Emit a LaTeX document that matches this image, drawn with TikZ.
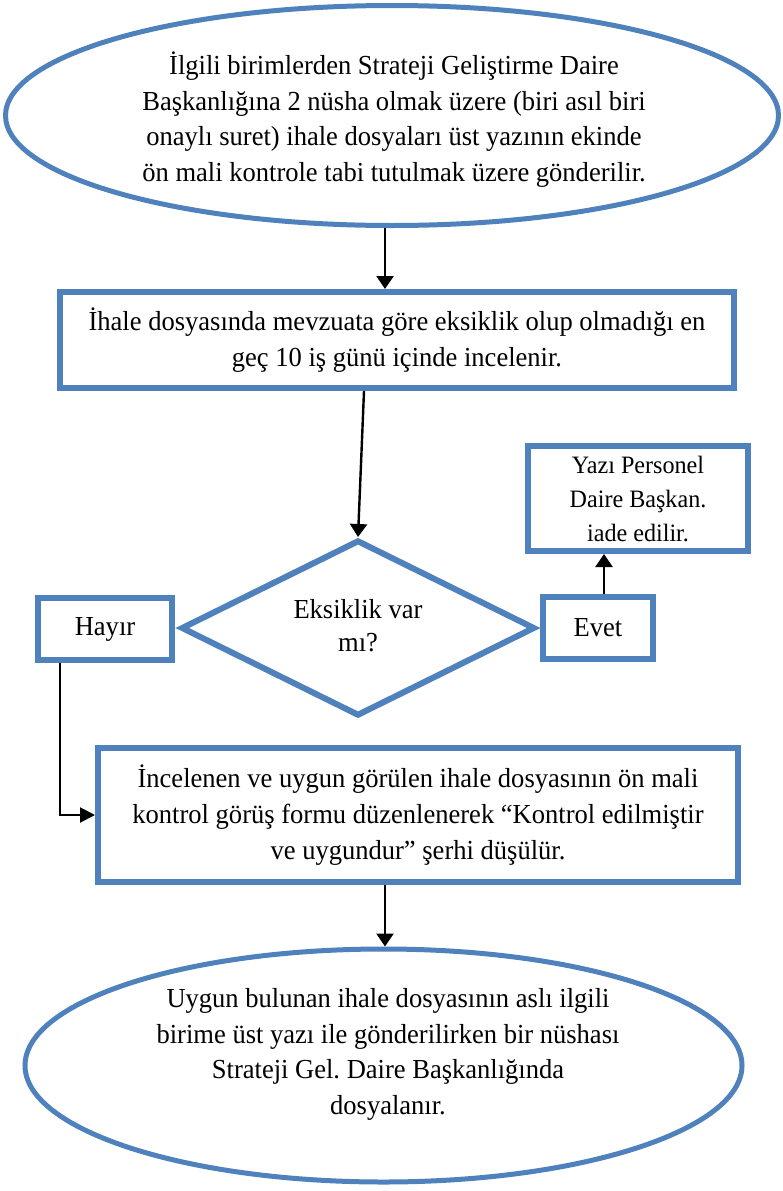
\documentclass[tikz,border=0pt]{standalone}
\usepackage{fontspec}
\setmainfont[FakeStretch=0.965]{Liberation Serif}
\frenchspacing
\usetikzlibrary{shapes.geometric,arrows.meta}
\definecolor{obox}{HTML}{4F81BD}
\tikzset{
  txt/.style={align=center, inner sep=0pt, font=\fontsize{27.5}{35.7}\selectfont},
  shp/.style={txt, draw=obox, line width=6pt, fill=white},
  ell/.style={shp, ellipse, line width=5pt},
  rbox/.style={shp, rectangle},
  dia/.style={shp, diamond},
  arr/.style={draw=black, line width=2.4pt, -{Triangle[length=13pt,width=17pt]}},
  thinarr/.style={draw=black, line width=2pt, -{Triangle[length=15pt,width=15pt]}}
}
\begin{document}
\begin{tikzpicture}[x=1pt,y=-1pt]
\useasboundingbox (0,0) rectangle (783,1191);
\node[ell, minimum width=773pt, minimum height=220pt] (e1) at (392,115.5) {};
\node[txt] (e1t) at (394,119.5)
  {İlgili birimlerden Strateji Geliştirme Daire\\Başkanlığına 2 nüsha olmak üzere (biri asıl biri\\onaylı suret) ihale dosyaları üst yazının ekinde\\ön mali kontrole tabi tutulmak üzere gönderilir.};
\node[rbox, minimum width=674pt, minimum height=96pt] (b1) at (397,340)
  {İhale dosyasında mevzuata göre eksiklik olup olmadığı en\\geç 10 iş günü içinde incelenir.};
\node[dia, minimum width=354pt, minimum height=176pt] (d) at (358,628) {};
\node[txt, font=\fontsize{27.5}{33}\selectfont] (dt) at (358,626) {Eksiklik var\\mı?};
\node[rbox, minimum width=134pt, minimum height=62pt] (hy) at (105,629) {Hayır};
\node[rbox, minimum width=110pt, minimum height=62pt] (ev) at (598,628) {Evet};
\node[rbox, minimum width=220pt, minimum height=105pt, font=\fontsize{25}{34}\selectfont] (yz) at (638,498.5)
  {Yazı Personel\\Daire Başkan.\\iade edilir.};
\node[rbox, minimum width=640pt, minimum height=134pt] (b2) at (418,815)
  {İncelenen ve uygun görülen ihale dosyasının ön mali\\kontrol görüş formu düzenlenerek “Kontrol edilmiştir\\ve uygundur” şerhi düşülür.};
\node[ell, minimum width=717pt, minimum height=233pt] (e2) at (383.5,1065.5) {};
\node[txt] (e2t) at (388,1054.5)
  {Uygun bulunan ihale dosyasının aslı ilgili\\birime üst yazı ile gönderilirken bir nüshası\\Strateji Gel. Daire Başkanlığında\\dosyalanır.};
\draw[arr] (385,0 |- e1.south) -- (385,0 |- b1.north);
\draw[arr] (364,0 |- b1.south) -- (d.north);
\draw[arr] (604,0 |- ev.north) -- (604,0 |- yz.south);
\draw[thinarr] (60,0 |- hy.south) |- (b2.west);
\draw[arr] (385,0 |- b2.south) -- (385,0 |- e2.north);
\end{tikzpicture}
\end{document}
